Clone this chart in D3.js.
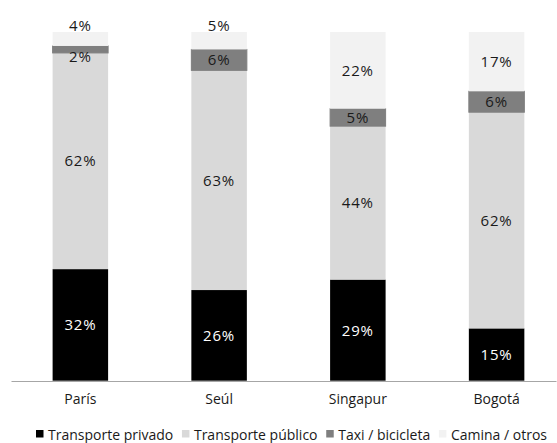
<!DOCTYPE html>
<html>
<head>
<meta charset="utf-8">
<script src="https://cdn.jsdelivr.net/npm/d3@7"></script>
<style>
  html, body { margin: 0; padding: 0; background: #fff; }
  svg { display: block; font-family: "Open Sans", sans-serif; }
</style>
</head>
<body>
<svg id="chart" width="557" height="443"></svg>
<script>
const categories = ["París", "Seúl", "Singapur", "Bogotá"];
const seriesNames = ["Transporte privado", "Transporte público", "Taxi / bicicleta", "Camina / otros"];
const privado = [32, 26, 29, 15];
const publico = [62, 63, 44, 62];
const taxi = [2, 6, 5, 6];
const camina = [4, 5, 22, 17];
const seriesValues = [privado, publico, taxi, camina];
const colors = ["#000000", "#d9d9d9", "#7f7f7f", "#f2f2f2"];
const labelColors = ["#ffffff", "#1a1a1a", "#1a1a1a", "#1a1a1a"];

const svg = d3.select("#chart");

const x = d3.scaleBand()
  .domain(categories)
  .range([11, 556])
  .paddingInner(0.6)
  .paddingOuter(0.264)
  .align(0.568);

const y = d3.scaleLinear().domain([0, 100]).range([380.7, 32]);

const rows = categories.map((c, i) => {
  const r = { cat: c };
  seriesNames.forEach((s, j) => r[s] = seriesValues[j][i]);
  return r;
});
const stacked = d3.stack().keys(seriesNames)(rows);

const g = svg.append("g");
stacked.forEach((layer, j) => {
  g.selectAll(null)
    .data(layer)
    .enter()
    .append("rect")
    .attr("x", d => x(d.data.cat))
    .attr("width", x.bandwidth())
    .attr("y", d => y(d[1]))
    .attr("height", d => y(d[0]) - y(d[1]))
    .attr("fill", colors[j])
    .attr("stroke", j === 2 ? colors[j] : "none")
    .attr("stroke-width", 1);
});

// labels
stacked.forEach((layer, j) => {
  const isTop = j === seriesNames.length - 1;
  g.selectAll(null)
    .data(layer)
    .enter()
    .append("text")
    .attr("x", d => x(d.data.cat) + x.bandwidth() / 2)
    .attr("y", d => {
      const v = d[1] - d[0];
      let cy = (y(d[0]) + y(d[1])) / 2;
      if (isTop && v < 6) cy = y(d[1]) - 6;
      else if (!isTop && v < 3) cy = cy + 7;
      return cy;
    })
    .attr("dy", "0.36em")
    .attr("text-anchor", "middle")
    .attr("font-size", 15)
    .attr("letter-spacing", 0.8)
    .attr("fill", labelColors[j])
    .text(d => (d[1] - d[0]) + "%");
});

// axis
const axis = svg.append("g")
  .attr("transform", "translate(0,381)")
  .call(d3.axisBottom(x).tickSize(0).tickSizeOuter(0).tickPadding(13));
axis.select(".domain").attr("stroke", "#a6a6a6").attr("stroke-width", 1.2);
axis.selectAll("text")
  .attr("font-size", 14)
  .attr("font-family", "'Open Sans', sans-serif")
  .attr("fill", "#1a1a1a");

// legend
const legend = svg.append("g");
const items = seriesNames.map((s, j) => {
  const r = legend.append("rect")
    .attr("y", 430).attr("width", 7.5).attr("height", 7.5)
    .attr("fill", colors[j]);
  const t = legend.append("text")
    .attr("y", 440)
    .attr("font-size", 14)
    .attr("fill", "#1a1a1a")
    .text(s);
  return { r, t, w: t.node().getComputedTextLength() };
});
const legStart = 36, legEnd = 547, markW = 12;
const textTotal = d3.sum(items, d => d.w + markW);
const gap = (legEnd - legStart - textTotal) / (items.length - 1);
let lx = legStart;
items.forEach(it => {
  it.r.attr("x", lx);
  it.t.attr("x", lx + markW);
  lx += markW + it.w + gap;
});
</script>
</body>
</html>
